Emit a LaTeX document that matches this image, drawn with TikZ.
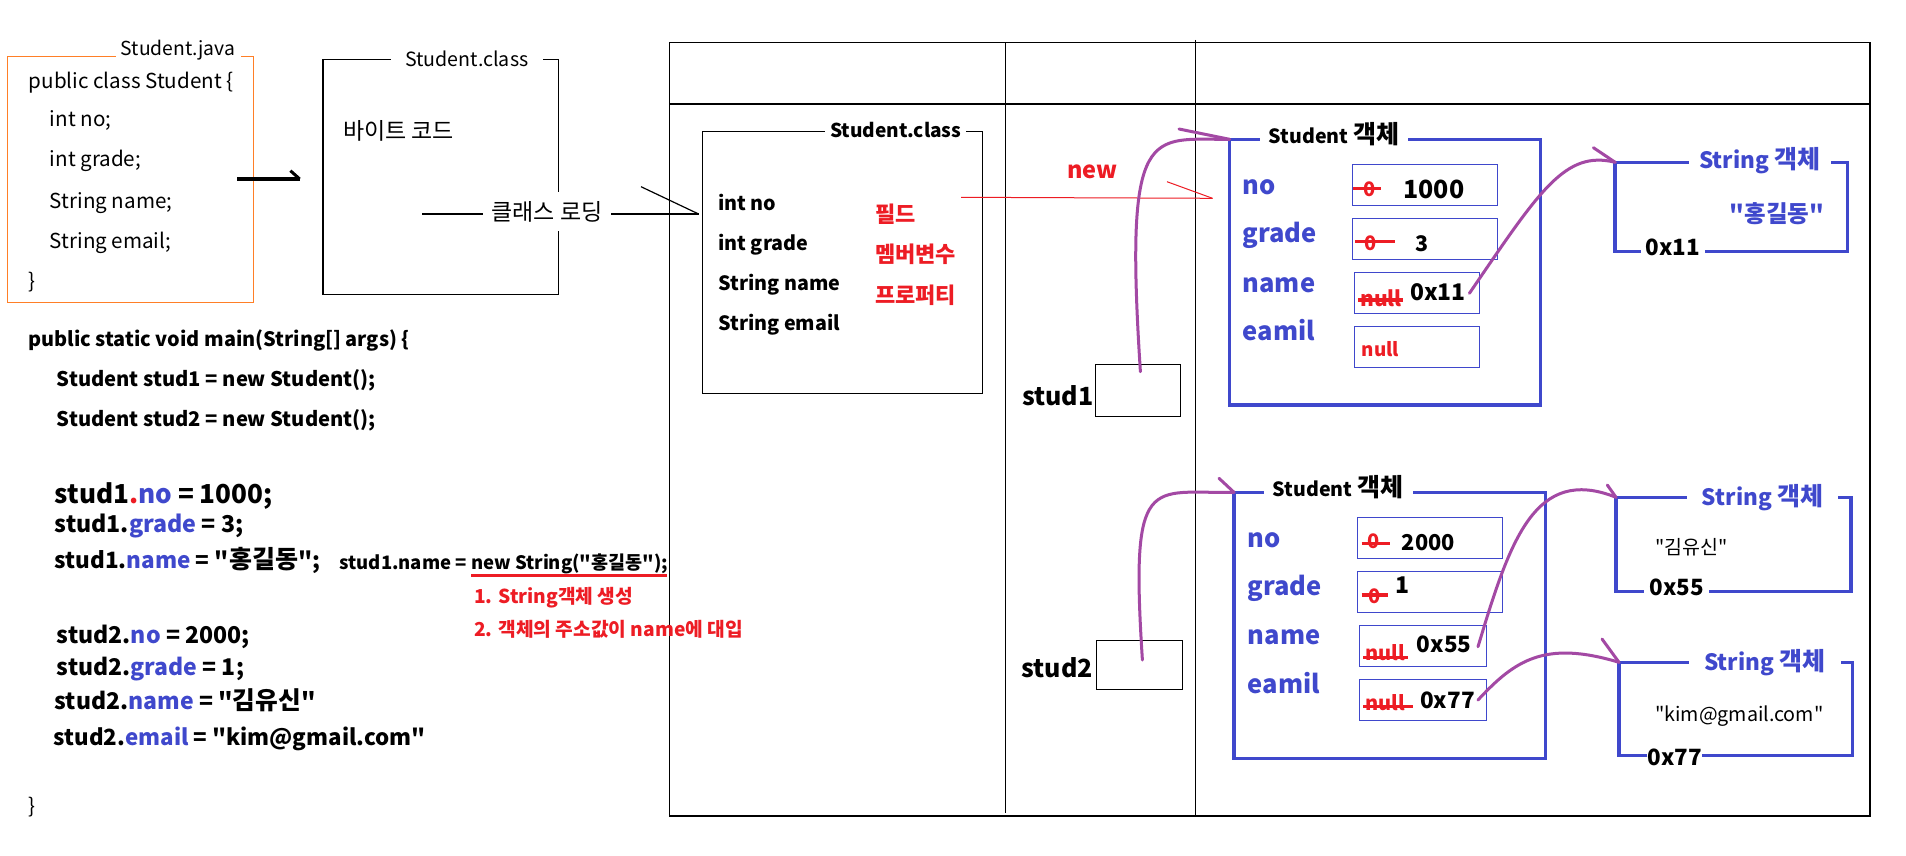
\documentclass[tikz,border=0pt]{standalone}
\usepackage{fontspec}
\setmainfont{Noto Sans CJK KR}[Ligatures=TeXOff]
\definecolor{jorange}{HTML}{FF7F27}
\definecolor{jblue}{HTML}{3F48CC}
\definecolor{jred}{HTML}{ED1C24}
\definecolor{jpurple}{HTML}{A349A4}
\newcommand\fsz[1]{\fontsize{#1}{#1}\selectfont}
\newcommand\krs[2]{{\fontsize{#1}{#1}\selectfont #2}}
\tikzset{
  box/.style={draw, line width=1.5pt, inner sep=0pt, outer sep=0pt, anchor=north west},
  bluebox/.style={draw=jblue, line width=3.5pt, inner sep=0pt, outer sep=0pt, anchor=north west},
  valbox/.style={draw=jblue, line width=1.2pt, inner sep=0pt, outer sep=0pt, anchor=north west},
  txt/.style={anchor=base west, inner sep=0pt, font=\fsz{#1}},
  txb/.style={anchor=base west, inner sep=0pt, font=\fsz{#1}\bfseries},
  ttl/.style={anchor=base, fill=white, inner xsep=0pt, inner ysep=2pt, minimum width=#1},
  ptr/.style={draw=jpurple, line width=3pt, line cap=round},
  strike/.style={draw=jred, line width=3.3pt},
}
\begin{document}
\begin{tikzpicture}[x=1pt,y=-1pt]
\useasboundingbox[fill=white] (0,0) rectangle (1906,856);

% ---------- Student.java ----------
\node[box, draw=jorange, minimum width=245.8pt, minimum height=245.6pt] (java) at (7.6,56.7) {};
\node[ttl=125pt, font=\fsz{19.3}] (javat) at (178,56) {Student.java};
\node[txt=20.6] (j1) at (28.6,89) {public class Student \{};
\node[txt=20.6] (j2) at (49.7,127) {int no;};
\node[txt=20.6] (j3) at (49.7,167) {int grade;};
\node[txt=20.6] (j4) at (49.7,208.5) {String name;};
\node[txt=20.6] (j5) at (49.7,248) {String email;};
\node[txt=20.6] (j6) at (28.6,288) {\}};

\coordinate (ja) at (237,179);
\coordinate (jb) at (299.7,179);
\coordinate (jbarb) at (290.4,170.7);
\draw[line width=4pt] (ja) -- (jb);
\draw[line width=3pt] (jbarb) -- (jb);

% ---------- Student.class (byte code) ----------
\node[box, minimum width=235.3pt, minimum height=235pt] (cls1) at (323.2,59.3) {};
\node[ttl=152.4pt, font=\fsz{19.6}] (cls1t) at (466.8,66.5) {Student.class};
\node[txt=23] (bc) at (343,140) {바이트 코드};

\coordinate (cl1) at (422,214);
\coordinate (cl2) at (698.6,214);
\coordinate (clbarb) at (641,186.7);
\draw[line width=1.2pt] (cl1) -- (cl2);
\draw[line width=1.2pt] (clbarb) -- (cl2);
\node[ttl=128pt, inner ysep=9pt, font=\fsz{23}] (clt) at (547,220) {클래스 로딩};

% ---------- memory frame ----------
\draw[line width=1.5pt] (669.3,42.3) rectangle (1870,816);
\draw[line width=1.5pt] (669.3,104) -- (1870,104);
\draw[line width=1.5pt] (1005.4,42.3) -- (1005.4,812.7);
\draw[line width=1.5pt] (1195.7,40) -- (1195.7,816);

% ---------- Student.class (method area) ----------
\node[box, minimum width=280pt, minimum height=261.6pt] (cls2) at (702.5,131.7) {};
\node[ttl=141.4pt, font=\fsz{19.1}\bfseries] (cls2t) at (895.7,138) {Student.class};
\node[txb=19.7] (f1) at (718.2,210) {int no};
\node[txb=19.7] (f2) at (718.2,250) {int grade};
\node[txb=19.7] (f3) at (718.2,290) {String name};
\node[txb=19.7] (f4) at (718.2,330) {String email};
\node[txb=22, text=jred] (r1) at (875,222) {필드};
\node[txb=22, text=jred] (r2) at (875,262) {멤버변수};
\node[txb=22, text=jred] (r3) at (875,303) {프로퍼티};

\coordinate (nw1) at (961,197.3);
\coordinate (nw2) at (1212.5,198.3);
\coordinate (nwbarb) at (1167,181.7);
\draw[jred, line width=1pt] (nw1) -- (nw2);
\draw[jred, line width=1pt] (nwbarb) -- (nw2);
\node[txb=23.5, text=jred] (new) at (1067,178.3) {new};

% ---------- stack variables ----------
\node[box, minimum width=85.3pt, minimum height=52.4pt] (stud1) at (1095.4,364.3) {};
\node[txb=25] (stud1t) at (1021.8,405) {stud1};
\node[box, minimum width=86.2pt, minimum height=49pt] (stud2) at (1096.4,640.3) {};
\node[txb=25] (stud2t) at (1021.3,677) {stud2};

% ---------- Student object 1 ----------
\node[bluebox, minimum width=311.1pt, minimum height=265.7pt] (sobj1) at (1229.5,139.3) {};
\node[ttl=148pt, font=\fsz{19.6}\bfseries] (sobj1t) at (1334,143) {Student \krs{25}{객체}};
\node[txb=25.5, text=jblue] (a1) at (1242.5,194) {no};
\node[txb=25.5, text=jblue] (a2) at (1242.5,242) {grade};
\node[txb=25.5, text=jblue] (a3) at (1242.5,292.7) {name};
\node[txb=25.5, text=jblue] (a4) at (1242.5,340) {eamil};
\node[valbox, minimum width=145.4pt, minimum height=41pt] (v1no) at (1352.2,164.3) {};
\node[valbox, minimum width=145.4pt, minimum height=41pt] (v1gr) at (1352.2,218.3) {};
\node[valbox, minimum width=125pt, minimum height=41pt] (v1nm) at (1354.5,272.3) {};
\node[valbox, minimum width=125pt, minimum height=41pt] (v1em) at (1354.5,326.3) {};
\node[txb=20, text=jred] (z1) at (1363,196) {0};
\draw[strike] (1353.3,188.3) -- (1380.7,188.3);
\node[txb=25] (x1) at (1403.3,198.3) {1000};
\node[txb=20, text=jred] (z2) at (1364,250) {0};
\draw[strike] (1355,241.7) -- (1395,241.7);
\node[txb=21.5] (x2) at (1415,251) {3};
\node[txb=21, text=jred] (z3) at (1360,306.5) {null};
\draw[strike] (1358.3,300) -- (1403.3,300);
\node[txb=22.9] (x3) at (1410,300.7) {0x11};
\node[txb=18.8, text=jred] (x4) at (1361.7,356.7) {null};

% ---------- String object 1 ----------
\node[bluebox, minimum width=232.4pt, minimum height=89.4pt] (str1) at (1615.2,162.3) {};
\node[ttl=141.5pt, font=\fsz{22.5}\bfseries, text=jblue] (str1t) at (1759.8,168) {String \krs{25}{객체}};
\node[txb=23.5, text=jblue] (str1v) at (1729.5,222) {"홍길동"};
\node[ttl=64pt, font=\fsz{22.4}\bfseries] (str1a) at (1672.5,255) {0x11};

% ---------- Student object 2 ----------
\node[bluebox, minimum width=311.3pt, minimum height=266pt] (sobj2) at (1234,492.3) {};
\node[ttl=149pt, font=\fsz{19.6}\bfseries] (sobj2t) at (1338,496.5) {Student \krs{25}{객체}};
\node[txb=25.5, text=jblue] (b1) at (1247.6,547.3) {no};
\node[txb=25.5, text=jblue] (b2) at (1247.6,595) {grade};
\node[txb=25.5, text=jblue] (b3) at (1247.6,644) {name};
\node[txb=25.5, text=jblue] (b4) at (1247.6,693.3) {eamil};
\node[valbox, minimum width=145.3pt, minimum height=40.6pt] (v2no) at (1357.4,517.7) {};
\node[valbox, minimum width=145.3pt, minimum height=41pt] (v2gr) at (1357.4,571.3) {};
\node[valbox, minimum width=127.6pt, minimum height=41.4pt] (v2nm) at (1359.2,625.3) {};
\node[valbox, minimum width=127.6pt, minimum height=41.4pt] (v2em) at (1359.2,679.3) {};
\node[txb=20, text=jred] (y1) at (1367,548.5) {0};
\draw[strike] (1361.7,543.3) -- (1390,543.3);
\node[txb=21.8] (w1) at (1401.7,550) {2000};
\node[txb=20, text=jred] (y2) at (1368,603.3) {0};
\draw[strike] (1361.7,595) -- (1388.3,595);
\node[txb=23] (w2) at (1395,593.3) {1};
\node[txb=20, text=jred] (y3) at (1365,660) {null};
\draw[strike] (1363.3,657.7) -- (1408.3,657.7);
\node[txb=22.5] (w3) at (1416.7,652.3) {0x55};
\node[txb=20, text=jred] (y4) at (1365,710) {null};
\draw[strike] (1363.3,706.7) -- (1413.3,706.7);
\node[txb=22.5] (w4) at (1420,708.3) {0x77};

% ---------- String object 2 ----------
\node[bluebox, minimum width=235.2pt, minimum height=94.4pt] (str2) at (1616,497.3) {};
\node[ttl=151pt, font=\fsz{22.5}\bfseries, text=jblue] (str2t) at (1762.5,505) {String \krs{25}{객체}};
\node[txt=19.5] (str2v) at (1655,554) {"김유신"};
\node[ttl=65.5pt, font=\fsz{22.4}\bfseries] (str2a) at (1676.7,595) {0x55};

% ---------- String object 3 ----------
\node[bluebox, minimum width=233.4pt, minimum height=93.4pt] (str3) at (1619,662.3) {};
\node[ttl=151.8pt, font=\fsz{22.5}\bfseries, text=jblue] (str3t) at (1764.7,670) {String \krs{25}{객체}};
\node[txt=19.7] (str3v) at (1655,721) {"kim@gmail.com"};
\node[ttl=55pt, font=\fsz{22.4}\bfseries] (str3a) at (1674.5,765) {0x77};

% ---------- references (purple) ----------
\coordinate (s1) at (1140.4,371.7);
\coordinate (s1b) at (1179,129);
\draw[ptr] (s1) .. controls (1124,120) and (1150,140) .. (sobj1.north west);
\draw[ptr] (s1b) -- (sobj1.north west);

\coordinate (n1) at (1469.4,293.3);
\coordinate (n1b) at (1593.4,147.7);
\draw[ptr] (n1) .. controls (1540,190) and (1565,150) .. (str1.north west);
\draw[ptr] (n1b) -- (str1.north west);

\coordinate (s2) at (1142.4,660);
\coordinate (s2b) at (1219,478.3);
\draw[ptr] (s2) .. controls (1130,470) and (1150,494) .. (sobj2.north west);
\draw[ptr] (s2b) -- (sobj2.north west);

\coordinate (n2) at (1478,646.7);
\coordinate (n2b) at (1607.3,485);
\draw[ptr] (n2) .. controls (1510,540) and (1535,465) .. (str2.north west);
\draw[ptr] (n2b) -- (str2.north west);

\coordinate (e2) at (1478,700);
\coordinate (e2b) at (1602,639);
\draw[ptr] (e2) .. controls (1515,660) and (1545,640) .. (str3.north west);
\draw[ptr] (e2b) -- (str3.north west);

% ---------- main code ----------
\node[txb=19.9] (m0) at (28,346) {public static void main(String[] args) \{};
\node[txb=20.2] (m1) at (56.7,386) {Student stud1 = new Student();};
\node[txb=20.2] (m2) at (56.7,426) {Student stud2 = new Student();};
\node[txb=26.1] (m3) at (54.5,503.3) {stud1{\color{jred}.}{\color{jblue}no} = 1000;};
\node[txb=23.2] (m4) at (54.5,532.7) {stud1.{\color{jblue}grade} = 3;};
\node[txb=22.5] (m5) at (54.5,568.3) {stud1.{\color{jblue}name} = "\krs{25}{홍길동}";};
\node[txb=18.5] (m5b) at (339.3,569.3) {stud1.name = new String("홍길동");};
\coordinate (ul1) at (471,575.7);
\coordinate (ul2) at (666.5,575.7);
\draw[jred, line width=2.5pt] (ul1) -- (ul2);
\node[txb=19.2, text=jred] (c1) at (474,603.3) {1. String객체 생성};
\node[txb=19.2, text=jred] (c2) at (474,636) {2. 객체의 주소값이 name에 대입};
\node[txb=23.1] (m6) at (56.7,643.3) {stud2.{\color{jblue}no} = 2000;};
\node[txb=23] (m7) at (56.7,675) {stud2.{\color{jblue}grade} = 1;};
\node[txb=23] (m8) at (54.5,709) {stud2.{\color{jblue}name} = "\krs{24.7}{김유신}"};
\node[txb=22.3] (m9) at (53.6,745) {stud2.{\color{jblue}email} = "kim@gmail.com"};
\node[txt=20.6] (m10) at (28,813.3) {\}};
\end{tikzpicture}
\end{document}
